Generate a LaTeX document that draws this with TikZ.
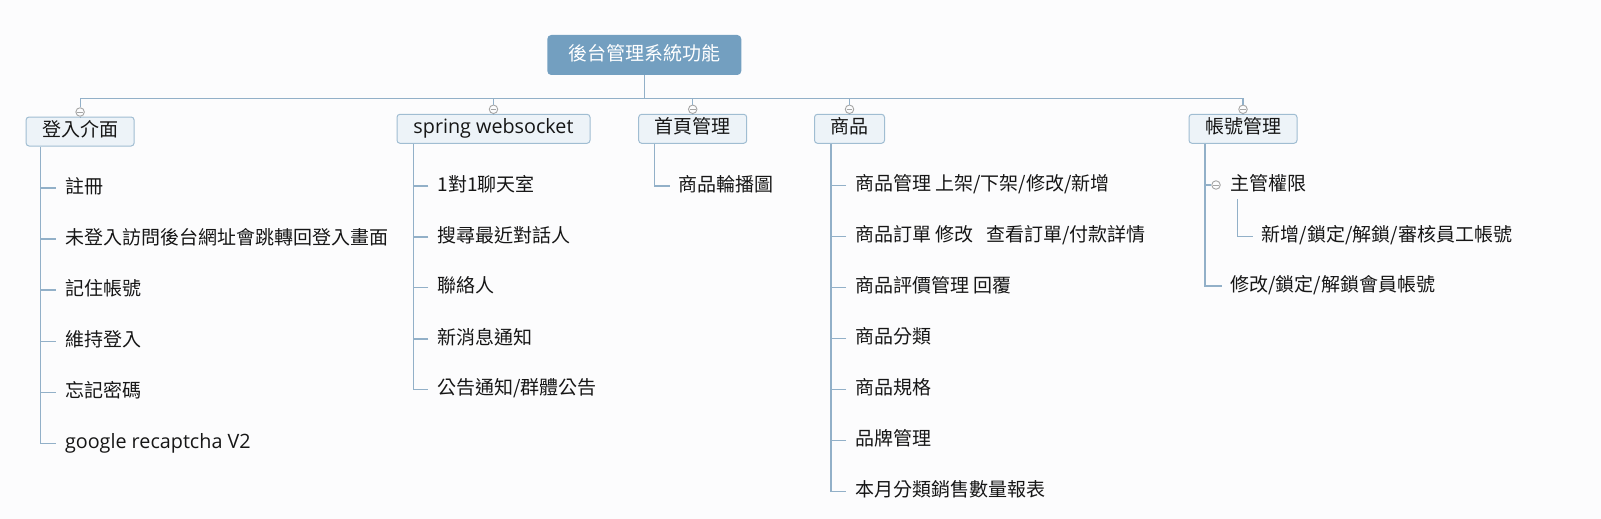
\documentclass[tikz,border=0pt]{standalone}
\usepackage{fontspec}
\setmainfont{Noto Sans CJK TC}
\newfontfamily\latinf{Open Sans}[Scale=1.04]
\usetikzlibrary{calc}
\definecolor{bg}{RGB}{252,252,253}
\definecolor{rootc}{RGB}{115,159,192}
\definecolor{boxf}{RGB}{237,243,248}
\definecolor{boxd}{RGB}{160,189,210}
\definecolor{linec}{RGB}{146,176,200}
\definecolor{knobc}{RGB}{165,165,165}
\definecolor{txt}{RGB}{22,22,22}
\tikzset{
  rootbox/.style={fill=rootc, rounded corners=4pt, minimum width=194pt, minimum height=40pt,
    text=white, inner sep=0pt, text height=1em, text depth=0em},
  topicbox/.style={draw=boxd, fill=boxf, line width=1pt, rounded corners=3pt, inner xsep=16pt,
    inner ysep=0pt, minimum height=29pt, text height=1em, text depth=0em, text=txt},
  leaf/.style={anchor=west, inner xsep=9pt, inner ysep=0pt, text height=1em, text depth=0em, text=txt},
  conn/.style={draw=linec, line width=1.2pt},
  knob/.style={circle, draw=knobc, fill=bg, line width=0.9pt, minimum size=8.5pt, inner sep=0pt,
    path picture={\draw[knobc, line width=0.9pt] ([xshift=-2.8pt]path picture bounding box.center) -- ([xshift=2.8pt]path picture bounding box.center);}}
}
\begin{document}
\begin{tikzpicture}[x=1pt, y=-1pt, font=\fontsize{19pt}{23pt}\selectfont]
\fill[bg] (0,0) rectangle (1601,519);
\useasboundingbox (0,0) rectangle (1601,519);

% root and topics
\node[rootbox] (root) at (644.3,55) {後台管理系統功能};
\node[topicbox] (t1) at (80.1,131.5) {登入介面};
\node[topicbox, minimum width=193pt] (t2) at (493.5,128.8) {\latinf spring websocket};
\node[topicbox] (t3) at (692.7,128.8) {首頁管理};
\node[topicbox] (t4) at (849.5,128.8) {商品};
\node[topicbox] (t5) at (1243,128.8) {帳號管理};

% knobs
\node[knob] (k1) at (80.1,112) {};
\node[knob] (k2) at (493.5,109.3) {};
\node[knob] (k3) at (692.7,109.3) {};
\node[knob] (k4) at (849.5,109.3) {};
\node[knob] (k5) at (1243,109.3) {};

% bus
\coordinate (bus) at (644.3,98.3);
\draw[conn] (root.south) -- (bus);
\draw[conn] (k1.north) -- (k1.north |- bus) -- (k5.north |- bus) -- (k5.north);
\foreach \k in {k2,k3,k4} { \draw[conn] (\k.north) -- (\k.north |- bus); }
\foreach \k/\t in {k1/t1,k2/t2,k3/t3,k4/t4,k5/t5} { \draw[conn] (\k.south) -- (\t.north); }

% stems
\coordinate (s1) at (40.8,0);
\coordinate (s2) at (413.3,0);
\coordinate (s3) at (654.3,0);
\coordinate (s4) at (831,0);
\coordinate (s5) at (1205,0);

% 登入介面
\node[leaf] (a1) at (55.8,188) {註冊};
\node[leaf] (a2) at (55.8,239) {未登入訪問後台網址會跳轉回登入畫面};
\node[leaf] (a3) at (55.8,290) {記住帳號};
\node[leaf] (a4) at (55.8,341.5) {維持登入};
\node[leaf] (a5) at (55.8,392.5) {忘記密碼};
\node[leaf] (a6) at (55.8,443.5) {\latinf google recaptcha V2};
\draw[conn] (s1 |- t1.south) |- (a6.west);
\foreach \n in {a1,a2,a3,a4,a5} { \draw[conn] (\n.west) -- (\n.west -| s1); }

% spring websocket
\node[leaf] (b1) at (428.3,186) {1對1聊天室};
\node[leaf] (b2) at (428.3,237) {搜尋最近對話人};
\node[leaf] (b3) at (428.3,287.5) {聯絡人};
\node[leaf] (b4) at (428.3,339) {新消息通知};
\node[leaf] (b5) at (428.3,389.5) {公告通知/群體公告};
\draw[conn] (s2 |- t2.south) |- (b5.west);
\foreach \n in {b1,b2,b3,b4} { \draw[conn] (\n.west) -- (\n.west -| s2); }

% 首頁管理
\node[leaf] (c1) at (669.5,186) {商品輪播圖};
\draw[conn] (s3 |- t3.south) |- (c1.west);

% 商品
\node[leaf] (d1) at (846,185.5) {商品管理 上架/下架/修改/新增};
\node[leaf] (d2) at (846,236.5) {商品訂單 修改\hspace{0.45em} 查看訂單/付款詳情};
\node[leaf] (d3) at (846,287.5) {商品評價管理 回覆};
\node[leaf] (d4) at (846,338.5) {商品分類};
\node[leaf] (d5) at (846,389.5) {商品規格};
\node[leaf] (d6) at (846,440.5) {品牌管理};
\node[leaf] (d7) at (846,491.5) {本月分類銷售數量報表};
\draw[conn] (s4 |- t4.south) |- (d7.west);
\foreach \n in {d1,d2,d3,d4,d5,d6} { \draw[conn] (\n.west) -- (\n.west -| s4); }

% 帳號管理
\node[knob] (k6) at (1216,185) {};
\node[leaf] (e1) at (1221,185.5) {主管權限};
\node[leaf] (e11) at (1252.7,236.5) {新增/鎖定/解鎖/審核員工帳號};
\node[leaf, inner xsep=8pt] (e2) at (1222,286) {修改/鎖定/解鎖會員帳號};
\draw[conn] (s5 |- t5.south) |- (e2.west);
\draw[conn] (k6.west) -- (k6.west -| s5);
\coordinate (s6) at (1237.3,199);
\draw[conn] (s6) |- (e11.west);
\end{tikzpicture}
\end{document}
